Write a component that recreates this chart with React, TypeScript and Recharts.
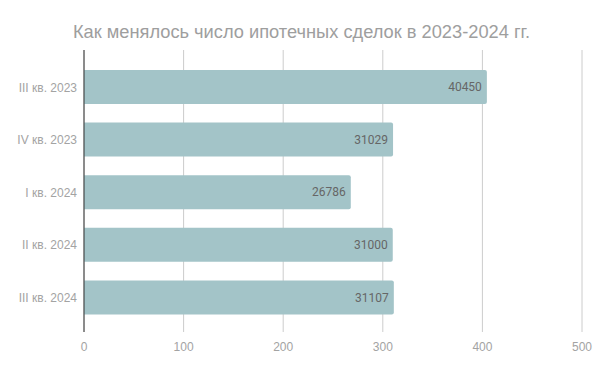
import React from 'react';
import { BarChart, Bar, XAxis, YAxis, CartesianGrid, LabelList } from 'recharts';

const categories = ['III кв. 2023', 'IV кв. 2023', 'I кв. 2024', 'II кв. 2024', 'III кв. 2024'];
const values = [40450, 31029, 26786, 31000, 31107];
const xTicks = [0, 10000, 20000, 30000, 40000, 50000];
const title = 'Как менялось число ипотечных сделок в 2023-2024 гг.';

const data = categories.map((name, i) => ({ name, value: values[i] }));

const SANS = '"Liberation Sans", Arial, sans-serif';
const ROBOTO = 'Roboto, "Liberation Sans", Arial, sans-serif';

export default function App() {
  return (
    <div style={{ position: 'absolute', left: 0, top: 0, width: 600, height: 371, background: '#fff' }}>
      <svg width={600} height={50} style={{ position: 'absolute', left: 0, top: 0 }}>
        <text x={301.5} y={38} textAnchor="middle" fill="#9e9e9e" fontSize={18.25} fontFamily={SANS}>
          {title}
        </text>
      </svg>
      <div style={{ position: 'absolute', left: 0, top: 0 }}>
        <BarChart
          width={600}
          height={371}
          data={data}
          layout="vertical"
          margin={{ top: 50, right: 18, bottom: 9, left: 0 }}
        >
          <CartesianGrid horizontal={false} stroke="#cccccc" />
          <XAxis
            type="number"
            domain={[0, 50000]}
            ticks={xTicks}
            tickFormatter={(v: number) => String(v / 100)}
            axisLine={false}
            tickLine={false}
            height={30}
            tickMargin={4}
            tick={{ fill: '#a3a3a3', fontSize: 12, fontFamily: SANS }}
          />
          <YAxis
            type="category"
            dataKey="name"
            width={84}
            padding={{ top: 11, bottom: 8 }}
            axisLine={{ stroke: '#333333' }}
            tickLine={false}
            tickMargin={1}
            tick={{ fill: '#a3a3a3', fontSize: 12, fontFamily: SANS }}
          />
          <Bar dataKey="value" fill="#a3c4c8" barSize={34} radius={[0, 2, 2, 0]} isAnimationActive={false}>
            <LabelList
              dataKey="value"
              position="insideRight"
              offset={5}
              fill="#666666"
              fontSize={12}
              fontFamily={ROBOTO}
            />
          </Bar>
        </BarChart>
      </div>
    </div>
  );
}
